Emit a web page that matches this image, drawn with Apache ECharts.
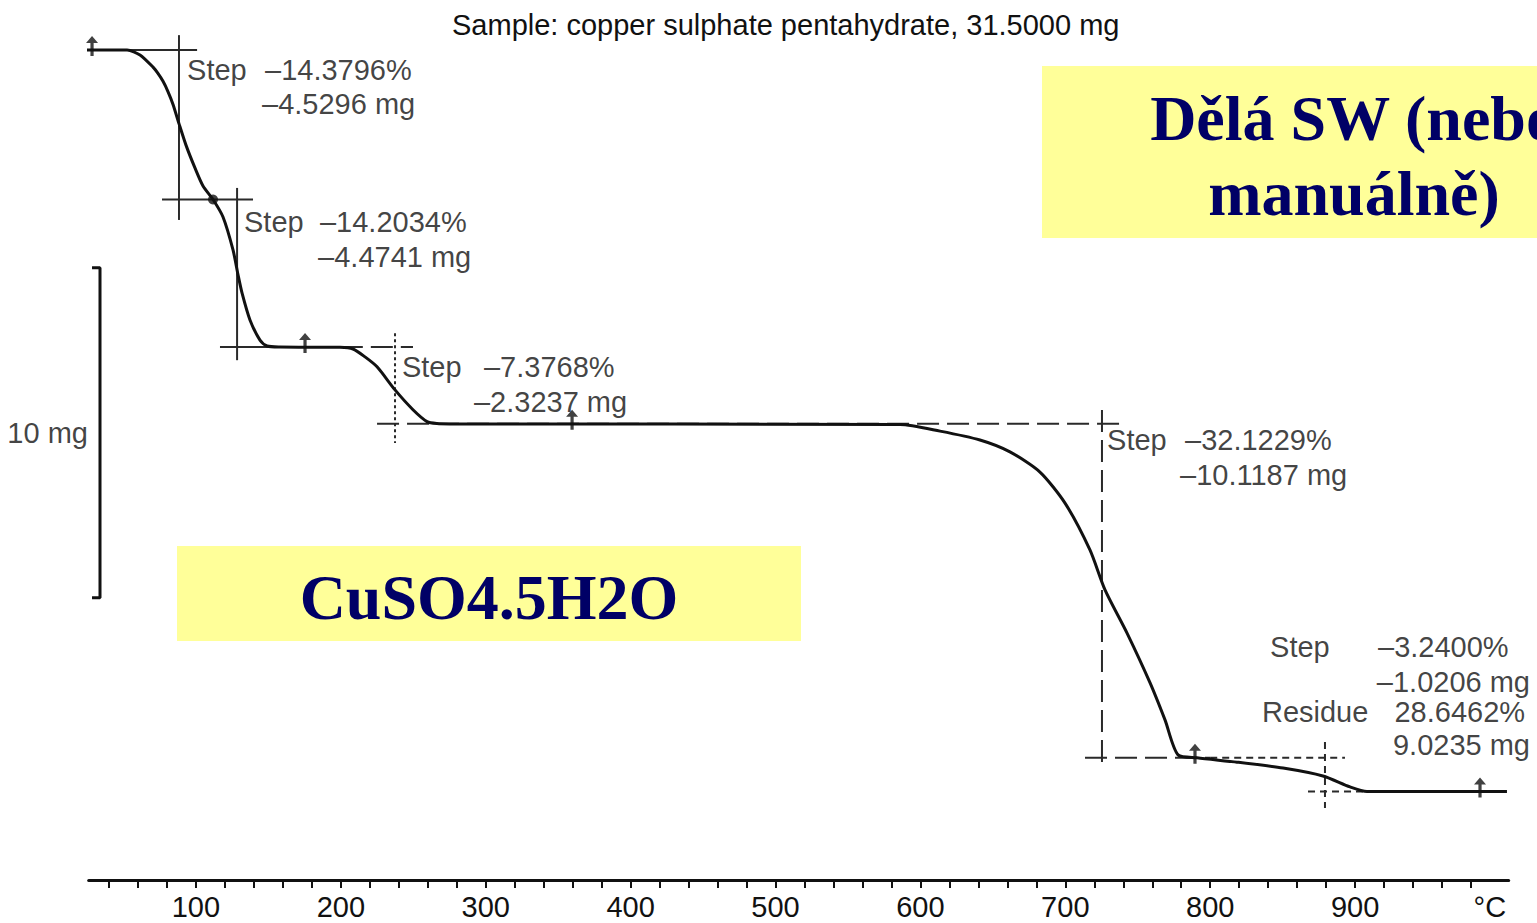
<!DOCTYPE html>
<html>
<head>
<meta charset="utf-8">
<title>TGA – copper sulphate pentahydrate</title>
<script src="https://cdn.jsdelivr.net/npm/echarts@6/dist/echarts.min.js"></script>
<style>
  html, body { margin: 0; padding: 0; background: #ffffff; }
  #chart { width: 1537px; height: 923px; }
</style>
</head>
<body>
<div id="chart"></div>
<script>
// Thermogravimetric analysis of CuSO4·5H2O: mass (mg) against temperature (°C)

const sampleTitle = 'Sample: copper sulphate pentahydrate, 31.5000 mg';
const sampleMass = 31.5;                                   // mg
const stepLossMg = [4.5296, 4.4741, 2.3237, 10.1187, 1.0206];
const stepLossPct = ['–14.3796%', '–14.2034%', '–7.3768%', '–32.1229%', '–3.2400%'];
const stepLossLabel = ['–4.5296 mg', '–4.4741 mg', '–2.3237 mg', '–10.1187 mg', '–1.0206 mg'];
const residuePct = '28.6462%';
const residueMg = '9.0235 mg';

// measured curve
const curveTemp = [16.6, 52.5, 61.4, 70.4, 73.8, 77.3, 80.7, 84.2, 88.3, 93.2, 99.4, 104.9, 111.8,
  118.7, 125.6, 129.1, 131.8, 137.3, 144.2, 149.1, 158.0, 199.4, 208.4, 216.7, 225.0, 237.4,
  249.8, 259.5, 266.4, 275.4, 585.9, 613.5, 641.1, 661.8, 682.5, 699.8, 717.0, 727.4, 742.6,
  758.5, 768.8, 777.8, 790.9, 818.5, 850.3, 877.8, 896.5, 908.2, 1004.8];
const curveMass = [31.50, 31.50, 31.35, 30.98, 30.79, 30.55, 30.24, 29.85, 29.27, 28.61, 27.92,
  27.38, 26.97, 26.44, 25.44, 24.68, 24.14, 23.32, 22.71, 22.53, 22.50, 22.49, 22.44, 22.20,
  21.90, 21.20, 20.60, 20.24, 20.18, 20.17, 20.15, 19.95, 19.68, 19.32, 18.71, 17.77, 16.35,
  15.14, 13.83, 12.32, 11.20, 10.14, 10.05, 9.92, 9.74, 9.50, 9.17, 9.03, 9.03];

// temperature axis
const tempLabels = [100, 200, 300, 400, 500, 600, 700, 800, 900];
const unitLabelTemp = 993;
const tickStep = 20;
const firstTick = 40, lastTick = 980;

// 10 mg scale bar
const scaleBarTop = 24.9;
const scaleBarSpan = 10;

// plateau levels after each step
const levels = [sampleMass];
stepLossMg.forEach(d => levels.push(levels[levels.length - 1] - d));

const tickTemps = [];
for (let t = firstTick; t <= lastTick; t += tickStep) tickTemps.push(t);

const FONT = "'Liberation Sans', Arial, Helvetica, sans-serif";
const INK = '#111111';
const TEXT_SIZE = 29;

// tangent construction lines of the step evaluation: [points, dash]
const solid = 'solid', longDash = [22, 8], shortDash = [7, 5], dotted = [3, 3];
const guides = [
  [[[14.5, levels[0]], [100.8, levels[0]]], solid],
  [[[88.3, 31.95], [88.3, 26.35]], solid],
  [[[76.6, levels[1]], [139.4, levels[1]]], solid],
  [[[128.4, 27.32], [128.4, 22.10]], solid],
  [[[116.6, levels[2]], [200.0, levels[2]]], solid],
  [[[200.0, levels[2]], [249.8, levels[2]]], longDash],
  [[[237.4, 22.92], [237.4, 19.59]], dotted],
  [[[225.0, levels[3]], [737.8, levels[3]]], longDash],
  [[[725.3, 20.59], [725.3, 9.74]], longDash],
  [[[713.6, levels[4]], [800.0, levels[4]]], longDash],
  [[[800.0, levels[4]], [893.0, levels[4]]], shortDash],
  [[[879.2, 10.53], [879.2, 8.53]], shortDash],
  [[[867.5, levels[5]], [910.3, levels[5]]], shortDash]
];

// evaluation markers on the plateaus
const markerTemps = [28.3, 175.3, 359.6, 789.5, 986.2];
const markerLevelIdx = [0, 2, 3, 4, 5];
const inflectionDot = [111.8, levels[1]];

// annotation texts: [temperature, mass, text, alignment]
const notes = [
  [93.9, 30.89, 'Step', 'l'], [147.7, 30.89, stepLossPct[0], 'l'], [145.6, 29.86, stepLossLabel[0], 'l'],
  [133.2, 26.29, 'Step', 'l'], [185.6, 26.29, stepLossPct[1], 'l'], [184.3, 25.23, stepLossLabel[1], 'l'],
  [242.2, 21.89, 'Step', 'l'], [298.8, 21.89, stepLossPct[2], 'l'], [291.9, 20.83, stepLossLabel[2], 'l'],
  [728.8, 19.68, 'Step', 'l'], [782.6, 19.68, stepLossPct[3], 'l'], [779.2, 18.62, stepLossLabel[3], 'l'],
  [841.3, 13.41, 'Step', 'l'], [915.8, 13.41, stepLossPct[4], 'l'], [1020.7, 12.35, stepLossLabel[4], 'r'],
  [835.7, 11.44, 'Residue', 'l'], [1017.3, 11.44, residuePct, 'r'], [1020.7, 10.44, residueMg, 'r'],
  [25.5, scaleBarTop - scaleBarSpan / 2, '10 mg', 'r']
];

const chart = echarts.init(document.getElementById('chart'), null, { renderer: 'svg' });

const series = [];

guides.forEach(([pts, dash]) => {
  series.push({
    type: 'line', data: pts, symbol: 'none', clip: false, silent: true, z: 2,
    lineStyle: { color: '#2a2a2a', width: 2, type: dash }
  });
});

series.push({
  name: 'mass', type: 'line', clip: false, symbol: 'none', z: 5,
  smooth: 0.25,
  data: curveTemp.map((t, i) => [t, curveMass[i]]),
  lineStyle: { color: '#111111', width: 3 }
});

series.push({
  type: 'line', clip: false, symbol: 'none', z: 3,
  data: [[28.3, scaleBarTop], [33.8, scaleBarTop], [33.8, scaleBarTop - scaleBarSpan], [28.3, scaleBarTop - scaleBarSpan]],
  lineStyle: { color: '#111111', width: 3 }
});

series.push({
  type: 'scatter', clip: false, z: 6,
  symbol: 'path://M6 0 L12 7 L7.6 7 L7.6 20 L4.4 20 L4.4 7 L0 7 Z',
  symbolSize: [12, 20], symbolOffset: [0, -4],
  itemStyle: { color: '#111111' },
  data: markerTemps.map((t, i) => [t, levels[markerLevelIdx[i]]])
});

series.push({
  type: 'scatter', clip: false, z: 6, symbol: 'circle', symbolSize: 10,
  itemStyle: { color: '#111111' }, data: [inflectionDot]
});

series.push({
  type: 'scatter', clip: false, z: 7, symbolSize: 0, silent: true,
  data: notes.map(n => ({
    value: [n[0], n[1]], name: n[2],
    label: { position: n[3] === 'l' ? 'right' : 'left' }
  })),
  label: {
    show: true, formatter: '{b}', distance: 0,
    fontFamily: FONT, fontSize: TEXT_SIZE, color: INK
  }
});

chart.setOption({
  backgroundColor: '#ffffff',
  animation: false,
  title: {
    text: sampleTitle, left: 447, top: 5,
    textStyle: { fontFamily: FONT, fontSize: TEXT_SIZE, fontWeight: 'normal', color: INK }
  },
  grid: { left: 88.7, right: 28.3, top: 0, bottom: 43, containLabel: false },
  xAxis: {
    type: 'value', min: 26, max: 1006,
    splitLine: { show: false },
    axisLine: { show: true, lineStyle: { color: '#111111', width: 3 } },
    axisTick: { show: true, length: 8, customValues: tickTemps, lineStyle: { color: '#111111', width: 2 } },
    axisLabel: {
      show: true, customValues: tempLabels.concat([unitLabelTemp]), margin: 12,
      formatter: v => (v === unitLabelTemp ? '°C' : String(v)),
      fontFamily: FONT, fontSize: TEXT_SIZE, color: INK
    }
  },
  yAxis: { type: 'value', min: 6.3485, max: 33.015, show: false, splitLine: { show: false } },
  series: series,
  graphic: [
    { type: 'rect', shape: { x: 1042, y: 66, width: 640, height: 172 }, style: { fill: '#ffff99' }, z: 10 },
    { type: 'text', x: 1354, y: 118, z: 11,
      style: { text: 'Dělá SW (nebo', fill: '#000066', align: 'center', verticalAlign: 'middle',
               font: "bold 64px 'Liberation Serif', 'Times New Roman', serif" } },
    { type: 'text', x: 1354, y: 193, z: 11,
      style: { text: 'manuálně)', fill: '#000066', align: 'center', verticalAlign: 'middle',
               font: "bold 64px 'Liberation Serif', 'Times New Roman', serif" } },
    { type: 'rect', shape: { x: 177, y: 546, width: 624, height: 95 }, style: { fill: '#ffff99' }, z: 10 },
    { type: 'text', x: 489, y: 597, z: 11,
      style: { text: 'CuSO4.5H2O', fill: '#000066', align: 'center', verticalAlign: 'middle',
               font: "bold 64px 'Liberation Serif', 'Times New Roman', serif" } }
  ]
});
</script>
</body>
</html>
